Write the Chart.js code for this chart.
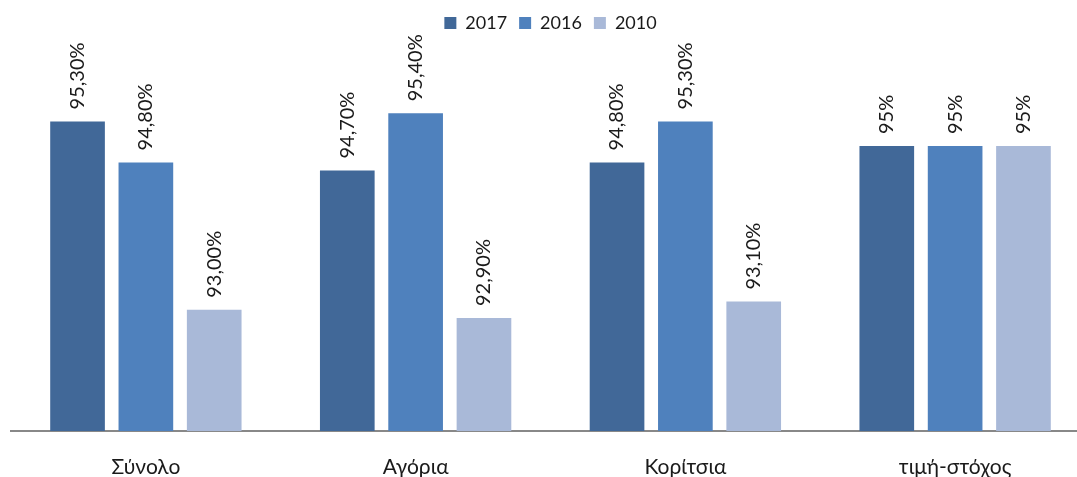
<!DOCTYPE html>
<html>
<head>
<meta charset="utf-8">
<script src="https://cdn.jsdelivr.net/npm/chart.js@4"></script>
<style>
  html, body { margin: 0; padding: 0; background: #fff; overflow: hidden; }
  #wrap { width: 1090px; height: 477px; }
</style>
</head>
<body>
<div id="wrap"><canvas id="chart"></canvas></div>
<script>
const categories = ['Σύνολο', 'Αγόρια', 'Κορίτσια', 'τιμή-στόχος'];
const series2017 = [95.3, 94.7, 94.8, 95];
const series2016 = [94.8, 95.4, 95.3, 95];
const series2010 = [93.0, 92.9, 93.1, 95];
const seriesLabels = ['2017', '2016', '2010'];
const seriesColors = ['#416898', '#4f81bd', '#a9b9d8'];

const FONT = 'Lato, "Open Sans", sans-serif';

// label text as in the original (comma decimals, target row without decimals)
function fmt(v, idx) {
    if (idx === 3) return v + '%';
    return v.toFixed(2).replace('.', ',') + '%';
}

const rotatedLabels = {
    id: 'rotatedLabels',
    afterDatasetsDraw(chart) {
        const ctx = chart.ctx;
        ctx.save();
        ctx.font = '20px ' + FONT;
        ctx.fillStyle = '#1a1a1a';
        ctx.textAlign = 'left';
        ctx.textBaseline = 'middle';
        chart.data.datasets.forEach((ds, di) => {
            const meta = chart.getDatasetMeta(di);
            meta.data.forEach((bar, i) => {
                ctx.save();
                ctx.translate(bar.x, bar.y - 12);
                ctx.rotate(-Math.PI / 2);
                ctx.fillText(fmt(ds.data[i], i), 0, 0);
                ctx.restore();
            });
        });
        ctx.restore();
    }
};

new Chart('chart', {
    type: 'bar',
    data: {
        labels: categories,
        datasets: [series2017, series2016, series2010].map((d, i) => ({
            label: seriesLabels[i],
            data: d,
            backgroundColor: seriesColors[i],
            categoryPercentage: 0.76,
            barPercentage: 0.8
        }))
    },
    options: {
        responsive: true,
        maintainAspectRatio: false,
        animation: false,
        layout: { padding: { left: 11, right: 0, top: 2, bottom: 0 } },
        plugins: {
            legend: {
                position: 'top',
                labels: {
                    boxWidth: 12,
                    boxHeight: 12,
                    padding: 12,
                    color: '#1a1a1a',
                    font: { family: FONT, size: 18 }
                }
            },
            tooltip: { enabled: false }
        },
        scales: {
            x: {
                grid: { display: false, drawTicks: false },
                border: { display: true, color: '#888', width: 2 },
                ticks: {
                    padding: 24,
                    color: '#1a1a1a',
                    font: { family: FONT, size: 21 }
                },
                afterFit(scale) { scale.height = 46; }
            },
            y: {
                display: false,
                min: 91.52,
                max: 96.27
            }
        }
    },
    plugins: [rotatedLabels]
});
</script>
</body>
</html>
